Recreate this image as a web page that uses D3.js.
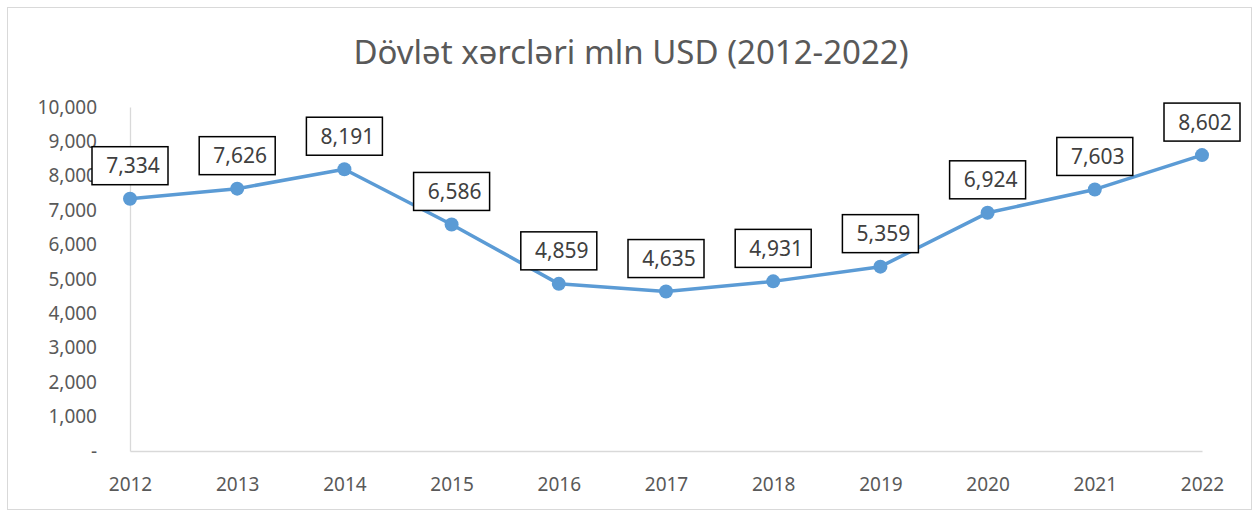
<!DOCTYPE html>
<html>
<head>
<meta charset="utf-8">
<script src="https://cdn.jsdelivr.net/npm/d3@7"></script>
<style>
  html, body { margin: 0; padding: 0; background: #fff; }
  svg { display: block; font-family: "Noto Sans", "Open Sans", sans-serif; }
</style>
</head>
<body>
<svg id="chart" width="1255" height="513"></svg>
<script>
// data
const years = ["2012", "2013", "2014", "2015", "2016", "2017", "2018", "2019", "2020", "2021", "2022"];
const spending = [7334, 7626, 8191, 6586, 4859, 4635, 4931, 5359, 6924, 7603, 8602];
const yTicks = [0, 1000, 2000, 3000, 4000, 5000, 6000, 7000, 8000, 9000, 10000];
const titleText = "Dövlət xərcləri mln USD (2012-2022)";

const svg = d3.select("#chart");
const W = 1255, H = 513;
const margin = { left: 130, right: 53, top: 107, bottom: 62 };

// outer frame
svg.append("rect")
    .attr("x", 7.5).attr("y", 7.5)
    .attr("width", 1244).attr("height", 502)
    .attr("fill", "#fff")
    .attr("stroke", "#d9d9d9")
    .attr("stroke-width", 1);

svg.append("text")
    .attr("x", 631).attr("y", 64)
    .attr("text-anchor", "middle")
    .attr("font-size", 33)
    .attr("fill", "#595959")
    .text(titleText);

const x = d3.scalePoint()
    .domain(years)
    .range([margin.left, W - margin.right]);

const y = d3.scaleLinear()
    .domain([0, 10000])
    .range([H - margin.bottom, margin.top]);

const fmt = d3.format(",");

// y axis
const yAxis = svg.append("g")
    .attr("transform", `translate(${margin.left},0)`)
    .call(d3.axisLeft(y).tickValues(yTicks).tickSize(0).tickPadding(33)
        .tickFormat(d => d === 0 ? "-" : fmt(d)));
yAxis.select(".domain").attr("stroke", "#d9d9d9").attr("stroke-width", 1.3);
yAxis.selectAll("text")
    .attr("font-family", "Noto Sans")
    .attr("font-size", 19)
    .attr("fill", "#595959");

// x axis
const xAxis = svg.append("g")
    .attr("transform", `translate(0,${H - margin.bottom})`)
    .call(d3.axisBottom(x).tickSize(0).tickPadding(27));
xAxis.select(".domain").attr("stroke", "#d9d9d9").attr("stroke-width", 1.3);
xAxis.selectAll("text")
    .attr("font-family", "Noto Sans")
    .attr("font-size", 19)
    .attr("fill", "#595959");

const points = years.map((yr, i) => ({ year: yr, value: spending[i] }));

svg.append("path")
    .datum(points)
    .attr("fill", "none")
    .attr("stroke", "#5b9bd5")
    .attr("stroke-width", 3.5)
    .attr("stroke-linejoin", "round")
    .attr("d", d3.line().x(d => x(d.year)).y(d => y(d.value)));

svg.selectAll("circle.pt")
    .data(points)
    .join("circle")
    .attr("class", "pt")
    .attr("cx", d => x(d.year))
    .attr("cy", d => y(d.value))
    .attr("r", 7)
    .attr("fill", "#5b9bd5");

// data labels in boxes
const boxW = 76, boxH = 38;
const labels = svg.selectAll("g.lbl")
    .data(points)
    .join("g")
    .attr("class", "lbl")
    .attr("transform", d => `translate(${x(d.year)},${y(d.value) - 14 - boxH / 2})`);

labels.append("rect")
    .attr("x", -boxW / 2).attr("y", -boxH / 2)
    .attr("width", boxW).attr("height", boxH)
    .attr("fill", "#fff")
    .attr("stroke", "#000")
    .attr("stroke-width", 1.5);

labels.append("text")
    .attr("x", 3).attr("y", 7.5)
    .attr("text-anchor", "middle")
    .attr("font-size", 21)
    .attr("fill", "#404040")
    .text(d => fmt(d.value));
</script>
</body>
</html>
